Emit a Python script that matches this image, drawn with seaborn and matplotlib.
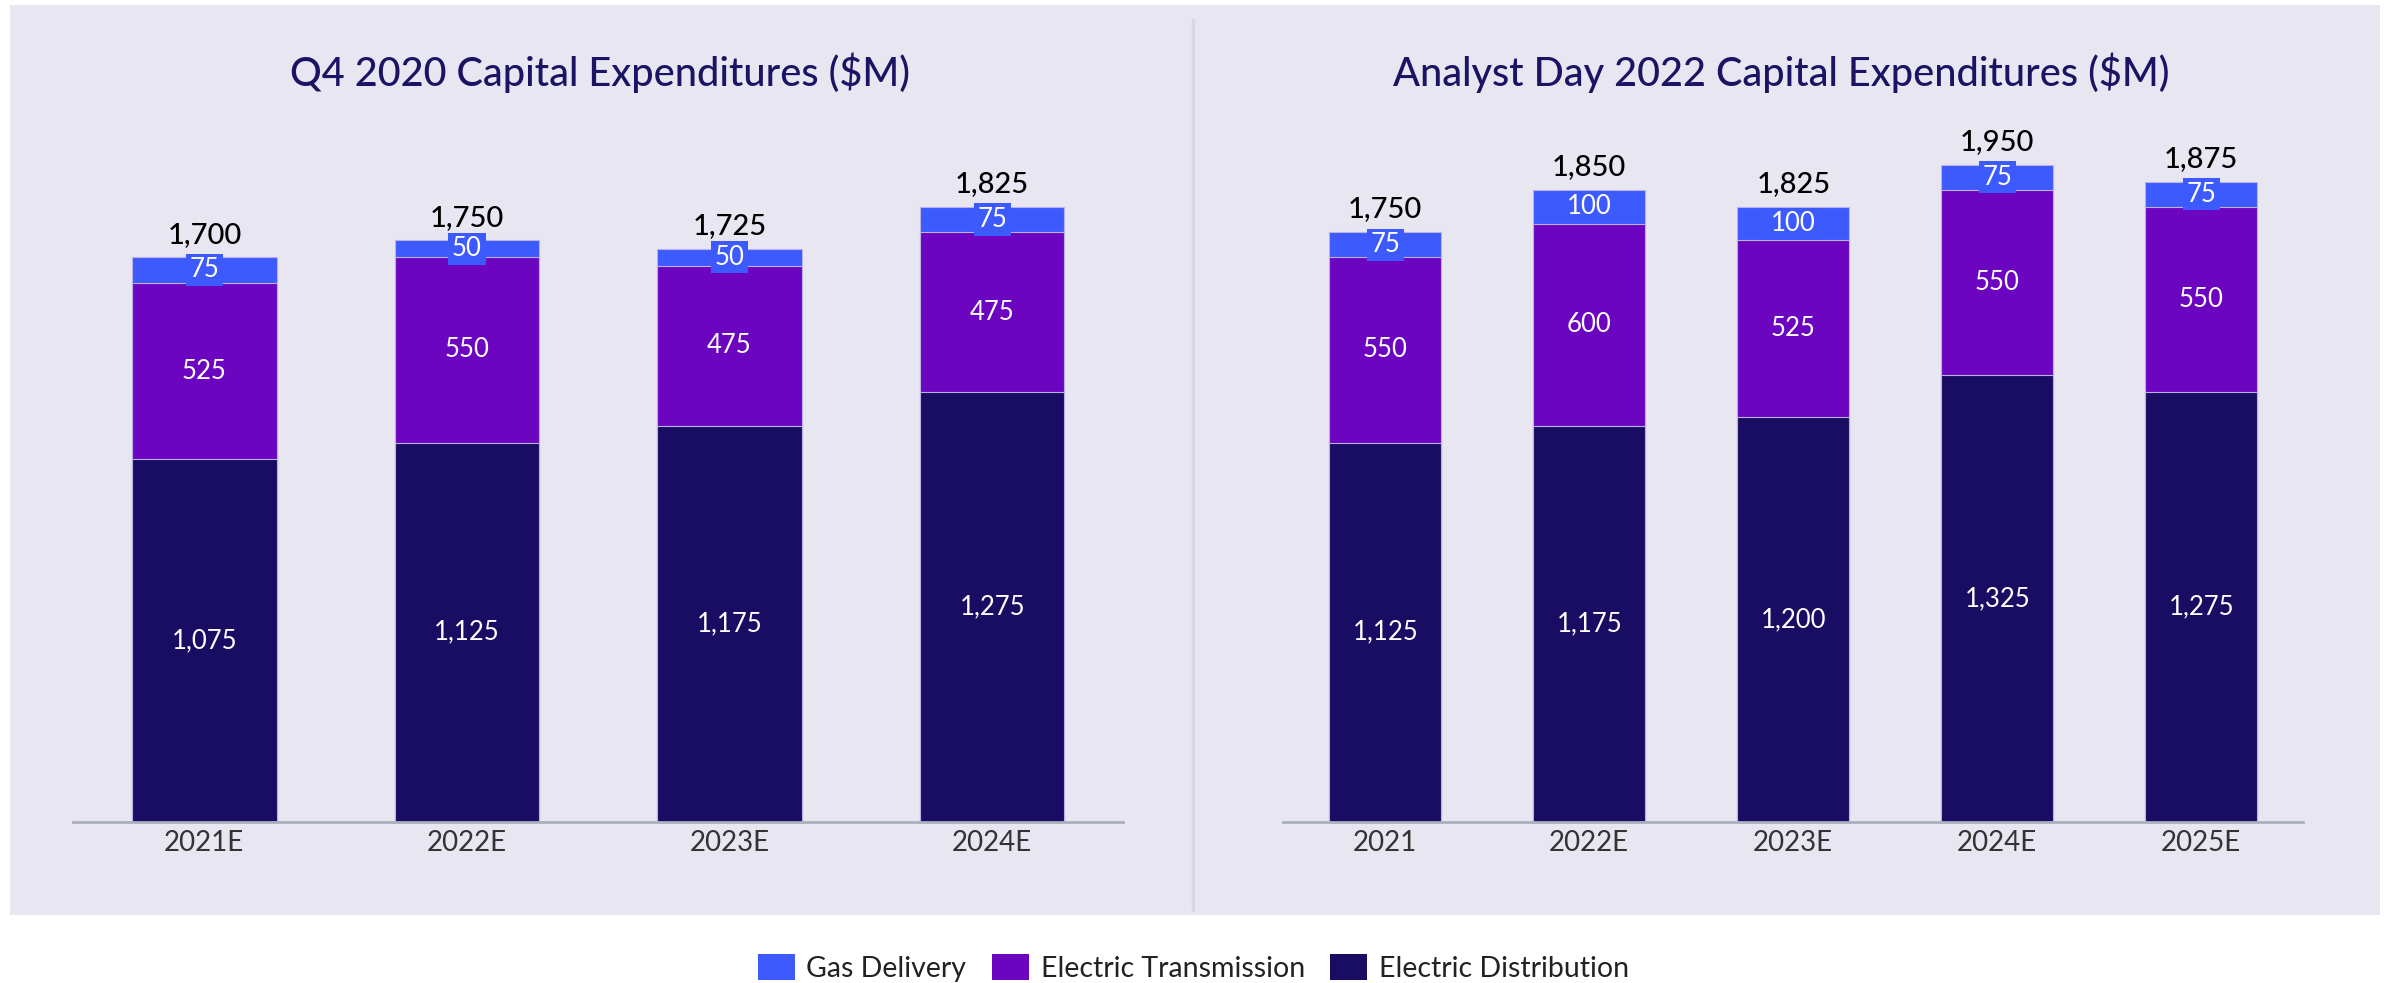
import matplotlib
matplotlib.use("Agg")
import matplotlib.pyplot as plt
from matplotlib.patches import Rectangle, Patch
from matplotlib.lines import Line2D
import seaborn as sns
import pandas as pd

# ---- data ----
left_years = ["2021E", "2022E", "2023E", "2024E"]
left_dist = [1075, 1125, 1175, 1275]
left_trans = [525, 550, 475, 475]
left_gas = [75, 50, 50, 75]
left_total = [1700, 1750, 1725, 1825]

right_years = ["2021", "2022E", "2023E", "2024E", "2025E"]
right_dist = [1125, 1175, 1200, 1325, 1275]
right_trans = [550, 600, 525, 550, 550]
right_gas = [75, 100, 100, 75, 75]
right_total = [1750, 1850, 1825, 1950, 1875]

left_title = "Q4 2020 Capital Expenditures ($M)"
right_title = "Analyst Day 2022 Capital Expenditures ($M)"
series_names = ["Gas Delivery", "Electric Transmission", "Electric Distribution"]

C_GAS = "#3D5AFE"
C_TRANS = "#6C05BF"
C_DIST = "#190C63"
C_TITLE = "#1B1464"
PANEL = "#E8E6F0"

sns.set_style("white", {"axes.facecolor": "none"})
FONT = ["Lato", "DejaVu Sans"]
plt.rcParams["font.family"] = FONT

fig = plt.figure(figsize=(23.87, 9.83), dpi=100, facecolor="white")

# panel background
fig.patches.append(Rectangle((10 / 2387, 1 - 915 / 983), 2370 / 2387, 910 / 983,
                             transform=fig.transFigure, facecolor=PANEL,
                             edgecolor="none", zorder=-5))
fig.add_artist(Line2D([0.4998, 0.4998], [1 - 910 / 983, 1 - 20 / 983],
                      transform=fig.transFigure, color="#D9D7E6", lw=2.5, zorder=-4))

YMAX = 2100
bottom = 1 - 540 / 646
height = 465 / 646
LW = "normal"


def draw(ax, years, dist, trans, gas, total):
    df = pd.DataFrame({"year": years, "dist": dist, "trans": trans, "gas": gas})
    df["dt"] = df["dist"] + df["trans"]
    df["all"] = df["dt"] + df["gas"]
    kw = dict(ax=ax, width=0.55, edgecolor="#B9B2E8", linewidth=0.8, saturation=1, order=years)
    sns.barplot(data=df, x="year", y="all", color=C_GAS, **kw)
    sns.barplot(data=df, x="year", y="dt", color=C_TRANS, **kw)
    sns.barplot(data=df, x="year", y="dist", color=C_DIST, **kw)
    for i in range(len(years)):
        d, t, g = dist[i], trans[i], gas[i]
        ax.text(i, d / 2, f"{d:,}", ha="center", va="center", color="white",
                fontsize=18.5, fontweight=LW)
        ax.text(i, d + t / 2, f"{t:,}", ha="center", va="center", color="white",
                fontsize=18.5, fontweight=LW)
        ax.text(i, d + t + g / 2, f"{g:,}", ha="center", va="center", color="white",
                fontsize=18.5, fontweight=LW,
                bbox=dict(boxstyle="square,pad=0.14", facecolor=C_GAS, edgecolor="none"))
        ax.annotate(f"{total[i]:,}", (i, d + t + g), xytext=(0, 7),
                    textcoords="offset points", ha="center", va="bottom",
                    color="black", fontsize=21, fontweight="medium")
    ax.set_ylim(0, YMAX)
    ax.set_xlim(-0.5, len(years) - 0.5)
    ax.set_xlabel("")
    ax.set_ylabel("")
    ax.set_yticks([])
    for s in ["top", "left", "right"]:
        ax.spines[s].set_visible(False)
    ax.spines["bottom"].set_color("#A9B1BD")
    ax.spines["bottom"].set_linewidth(2)
    ax.tick_params(axis="x", length=0, pad=6, labelsize=20, labelcolor="#333333")
    for lab in ax.get_xticklabels():
        lab.set_fontweight(LW)


ax1 = fig.add_axes([48 / 1568, bottom, 690 / 1568, height], zorder=2)
ax2 = fig.add_axes([843 / 1568, bottom, 670 / 1568, height], zorder=2)
ax1.patch.set_alpha(0)
ax2.patch.set_alpha(0)
draw(ax1, left_years, left_dist, left_trans, left_gas, left_total)
draw(ax2, right_years, right_dist, right_trans, right_gas, right_total)

fig.text(394 / 1568, 1 - 48 / 646, left_title, ha="center", va="center",
         fontsize=28.5, color=C_TITLE, fontweight="medium")
fig.text(1170 / 1568, 1 - 48 / 646, right_title, ha="center", va="center",
         fontsize=28.5, color=C_TITLE, fontweight="medium")

handles = [Patch(facecolor=c, edgecolor="none") for c in [C_GAS, C_TRANS, C_DIST]]
leg = fig.legend(handles, series_names, loc="center", bbox_to_anchor=(0.5, 1 - 636 / 646),
                 ncol=3, frameon=False, fontsize=20.5, handlelength=1.3, handleheight=1.0,
                 handletextpad=0.4, columnspacing=0.9)
for t in leg.get_texts():
    t.set_fontweight(LW)
    t.set_color("#222222")

fig.savefig("out.png", dpi=100, facecolor="white")
